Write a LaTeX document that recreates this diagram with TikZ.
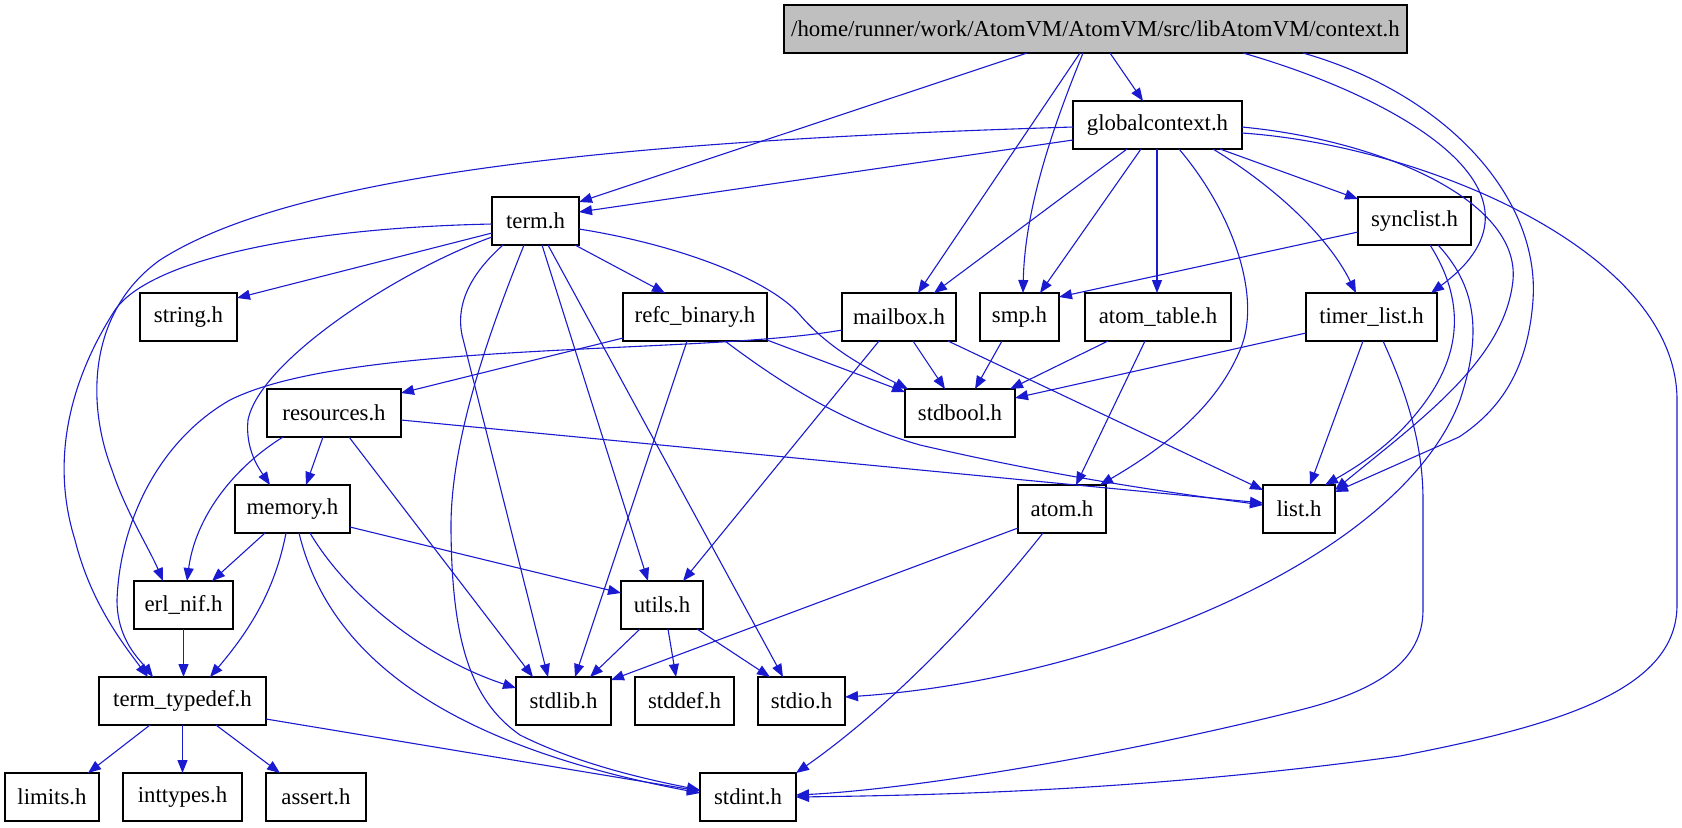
\documentclass[tikz,border=0pt]{standalone}
\usepackage{fontspec}
\setmainfont{Liberation Serif}
\usetikzlibrary{arrows.meta}
\definecolor{edgeblue}{RGB}{26,26,208}
\definecolor{ctxgray}{RGB}{191,191,191}
\begin{document}
\begin{tikzpicture}[x=0.5pt,y=-0.5pt,
  box/.style={draw=black, line width=0.65pt, rectangle, inner sep=0pt, outer sep=0pt, minimum height=24pt, font=\fontsize{11.4}{13}\selectfont},
  edge/.style={draw=edgeblue, line width=0.55pt, -{Triangle[length=6.5pt,width=5pt]}},
]
\useasboundingbox (0,0) rectangle (1682,827);
% nodes
\node[box, fill=ctxgray, minimum width=311.5pt] (ctx) at (1095.5,29) {/home/runner/work/AtomVM/AtomVM/src/libAtomVM/context.h};
\node[box, minimum width=84.5pt] (gc) at (1157.5,125) {globalcontext.h};
\node[box, minimum width=43.5pt] (term) at (535.5,221) {term.h};
\node[box, minimum width=56.5pt] (sync) at (1414.5,221) {synclist.h};
\node[box, minimum width=48.5pt] (string) at (188.5,317) {string.h};
\node[box, minimum width=72pt] (refc) at (695,317) {refc\_binary.h};
\node[box, minimum width=57pt] (mailbox) at (899,317) {mailbox.h};
\node[box, minimum width=39.5pt] (smp) at (1019.5,317) {smp.h};
\node[box, minimum width=73pt] (atomtable) at (1158,317) {atom\_table.h};
\node[box, minimum width=65.5pt] (timer) at (1371.5,317) {timer\_list.h};
\node[box, minimum width=67pt] (res) at (334,413) {resources.h};
\node[box, minimum width=55pt] (stdbool) at (960,413) {stdbool.h};
\node[box, minimum width=57.5pt] (memory) at (292.5,509) {memory.h};
\node[box, minimum width=44pt] (atom) at (1062,509) {atom.h};
\node[box, minimum width=36pt] (list) at (1299,509) {list.h};
\node[box, minimum width=49.5pt] (erlnif) at (183.5,605) {erl\_nif.h};
\node[box, minimum width=41pt] (utils) at (662,605) {utils.h};
\node[box, minimum width=83.5pt] (tt) at (182.5,701) {term\_typedef.h};
\node[box, minimum width=47.5pt] (stdlib) at (563.5,701) {stdlib.h};
\node[box, minimum width=49.5pt] (stddef) at (684.5,701) {stddef.h};
\node[box, minimum width=43.5pt] (stdio) at (801.5,701) {stdio.h};
\node[box, minimum width=47pt] (limits) at (52,797) {limits.h};
\node[box, minimum width=59.5pt] (inttypes) at (182.5,797) {inttypes.h};
\node[box, minimum width=50pt] (assert) at (316,797) {assert.h};
\node[box, minimum width=48pt] (stdint) at (748,797) {stdint.h};
% context.h
\draw[edge] ([shift={(326,48)}]ctx.north west) -- ([shift={(70,0)}]gc.north west);
\draw[edge] ([shift={(243,48)}]ctx.north west) -- ([shift={(87,5)}]term.north west);
\draw[edge] ([shift={(296,48)}]ctx.north west) -- ([shift={(76,0)}]mailbox.north west);
\draw[edge] ([shift={(299,48)}]ctx.north west) .. controls (1060,110) and (1025,200) .. ([shift={(43,0)}]smp.north west);
\draw[edge] ([shift={(459,48)}]ctx.north west) .. controls (1390,95) and (1570,190) .. ([shift={(125,0)}]timer.north west);
\draw[edge] ([shift={(519,48)}]ctx.north west) .. controls (1450,95) and (1540,200) .. (1533,300) .. controls (1528,370) and (1500,410) .. (1459,437) -- ([shift={(72,7)}]list.north west);
% globalcontext.h
\draw[edge] ([shift={(0,39)}]gc.north west) -- ([shift={(87,15)}]term.north west);
\draw[edge] ([shift={(0,26)}]gc.north west) .. controls (650,140) and (300,170) .. (160,260) .. controls (90,310) and (85,400) .. (112,470) .. controls (125,510) and (150,550) .. ([shift={(29,0)}]erlnif.north west);
\draw[edge] ([shift={(54,48)}]gc.north west) -- ([shift={(92,0)}]mailbox.north west);
\draw[edge] ([shift={(68,48)}]gc.north west) -- ([shift={(60,0)}]smp.north west);
\draw[edge] ([shift={(84,48)}]gc.north west) -- ([shift={(72,0)}]atomtable.north west);
\draw[edge] ([shift={(106,48)}]gc.north west) .. controls (1235,215) and (1262,300) .. (1240,350) .. controls (1215,410) and (1160,450) .. ([shift={(82,0)}]atom.north west);
\draw[edge] ([shift={(140,48)}]gc.north west) .. controls (1280,190) and (1330,240) .. ([shift={(50,0)}]timer.north west);
\draw[edge] ([shift={(147,48)}]gc.north west) -- ([shift={(0,2)}]sync.north west);
\draw[edge] ([shift={(169,26)}]gc.north west) .. controls (1380,140) and (1520,200) .. (1513,280) .. controls (1505,360) and (1420,420) .. ([shift={(72,5)}]list.north west);
\draw[edge] ([shift={(169,32)}]gc.north west) .. controls (1420,145) and (1677,250) .. (1677,400) -- (1677,605) .. controls (1677,690) and (1560,725) .. (1400,756) .. controls (1150,790) and (950,795) .. ([shift={(96,24)}]stdint.north west);
% term.h
\draw[edge] ([shift={(0,36)}]term.north west) -- ([shift={(97,5)}]string.north west);
\draw[edge] ([shift={(83,48)}]term.north west) -- ([shift={(42,0)}]refc.north west);
\draw[edge] ([shift={(87,32)}]term.north west) .. controls (680,245) and (770,280) .. (800,315) .. controls (830,350) and (870,370) .. ([shift={(3,0)}]stdbool.north west);
\draw[edge] ([shift={(0,40)}]term.north west) .. controls (400,270) and (260,360) .. (248,420) .. controls (245,450) and (260,470) .. ([shift={(35,0)}]memory.north west);
\draw[edge] ([shift={(0,27)}]term.north west) .. controls (300,228) and (150,260) .. (115,310) .. controls (70,380) and (50,460) .. (75,540) .. controls (90,600) and (120,640) .. ([shift={(49,0)}]tt.north west);
\draw[edge] ([shift={(11,48)}]term.north west) .. controls (475,270) and (455,300) .. (462,335) -- ([shift={(32,0)}]stdlib.north west);
\draw[edge] ([shift={(32,48)}]term.north west) .. controls (490,330) and (450,440) .. (451,530) .. controls (452,640) and (470,700) .. (520,735) .. controls (580,765) and (650,780) .. ([shift={(0,17)}]stdint.north west);
\draw[edge] ([shift={(50,48)}]term.north west) -- ([shift={(27,0)}]utils.north west);
\draw[edge] ([shift={(56,48)}]term.north west) -- ([shift={(25,0)}]stdio.north west);
% synclist.h
\draw[edge] ([shift={(0,35)}]sync.north west) -- ([shift={(79,4)}]smp.north west);
\draw[edge] ([shift={(72,48)}]sync.north west) .. controls (1465,300) and (1460,350) .. (1430,395) .. controls (1400,440) and (1360,465) .. ([shift={(62,0)}]list.north west);
\draw[edge] ([shift={(80,48)}]sync.north west) .. controls (1480,290) and (1480,340) .. (1460,400) .. controls (1400,560) and (1100,680) .. ([shift={(87,20)}]stdio.north west);
% refc_binary.h
\draw[edge] ([shift={(0,45)}]refc.north west) -- ([shift={(134,4)}]res.north west);
\draw[edge] ([shift={(144,47)}]refc.north west) -- ([shift={(0,3)}]stdbool.north west);
\draw[edge] ([shift={(102,48)}]refc.north west) .. controls (790,390) and (850,425) .. (920,445) .. controls (1050,475) and (1150,490) .. ([shift={(0,20)}]list.north west);
\draw[edge] ([shift={(64,48)}]refc.north west) -- ([shift={(59,0)}]stdlib.north west);
% mailbox.h
\draw[edge] ([shift={(0,37)}]mailbox.north west) .. controls (700,355) and (350,340) .. (230,400) .. controls (160,440) and (120,520) .. (117,600) .. controls (117,640) and (140,660) .. ([shift={(54,0)}]tt.north west);
\draw[edge] ([shift={(37,48)}]mailbox.north west) -- ([shift={(62,0)}]utils.north west);
\draw[edge] ([shift={(71,48)}]mailbox.north west) -- ([shift={(40,0)}]stdbool.north west);
\draw[edge] ([shift={(106,48)}]mailbox.north west) -- ([shift={(0,5)}]list.north west);
% smp, atom_table, timer_list
\draw[edge] ([shift={(22,48)}]smp.north west) -- ([shift={(70,0)}]stdbool.north west);
\draw[edge] ([shift={(23,48)}]atomtable.north west) -- ([shift={(105,0)}]stdbool.north west);
\draw[edge] ([shift={(60,48)}]atomtable.north west) -- ([shift={(58,0)}]atom.north west);
\draw[edge] ([shift={(0,40)}]timer.north west) -- ([shift={(110,9)}]stdbool.north west);
\draw[edge] ([shift={(57,48)}]timer.north west) -- ([shift={(47,0)}]list.north west);
\draw[edge] ([shift={(77,48)}]timer.north west) .. controls (1410,400) and (1423,450) .. (1423,500) -- (1423,610) .. controls (1423,660) and (1380,690) .. (1300,710) .. controls (1100,760) and (900,790) .. ([shift={(96,22)}]stdint.north west);
% resources.h
\draw[edge] ([shift={(56,48)}]res.north west) -- ([shift={(71,0)}]memory.north west);
\draw[edge] ([shift={(16,48)}]res.north west) .. controls (230,470) and (195,520) .. ([shift={(53,0)}]erlnif.north west);
\draw[edge] ([shift={(82,48)}]res.north west) -- ([shift={(17,0)}]stdlib.north west);
\draw[edge] ([shift={(134,31)}]res.north west) -- ([shift={(0,18)}]list.north west);
% atom.h
\draw[edge] ([shift={(0,43)}]atom.north west) -- ([shift={(95,3)}]stdlib.north west);
\draw[edge] ([shift={(25,48)}]atom.north west) .. controls (990,600) and (900,700) .. ([shift={(96,0)}]stdint.north west);
% memory.h
\draw[edge] ([shift={(30,48)}]memory.north west) -- ([shift={(78,0)}]erlnif.north west);
\draw[edge] ([shift={(51,48)}]memory.north west) .. controls (275,590) and (250,630) .. ([shift={(111,0)}]tt.north west);
\draw[edge] ([shift={(75,48)}]memory.north west) .. controls (350,600) and (430,660) .. ([shift={(0,11)}]stdlib.north west);
\draw[edge] ([shift={(64,48)}]memory.north west) .. controls (325,640) and (420,740) .. ([shift={(0,20)}]stdint.north west);
\draw[edge] ([shift={(115,42)}]memory.north west) -- ([shift={(0,12)}]utils.north west);
% erl_nif.h, utils.h
\draw[edge] (erlnif.south) -- ([shift={(84.5,0)}]tt.north west);
\draw[edge] ([shift={(19,48)}]utils.north west) -- ([shift={(74,0)}]stdlib.north west);
\draw[edge] ([shift={(47,48)}]utils.north west) -- ([shift={(41,0)}]stddef.north west);
\draw[edge] ([shift={(76,48)}]utils.north west) -- ([shift={(12,0)}]stdio.north west);
% term_typedef.h
\draw[edge] ([shift={(51,48)}]tt.north west) -- ([shift={(83,0)}]limits.north west);
\draw[edge] (tt.south) -- (inttypes.north);
\draw[edge] ([shift={(117,48)}]tt.north west) -- ([shift={(14,0)}]assert.north west);
\draw[edge] ([shift={(167,42)}]tt.north west) -- ([shift={(0,18)}]stdint.north west);
\end{tikzpicture}
\end{document}
